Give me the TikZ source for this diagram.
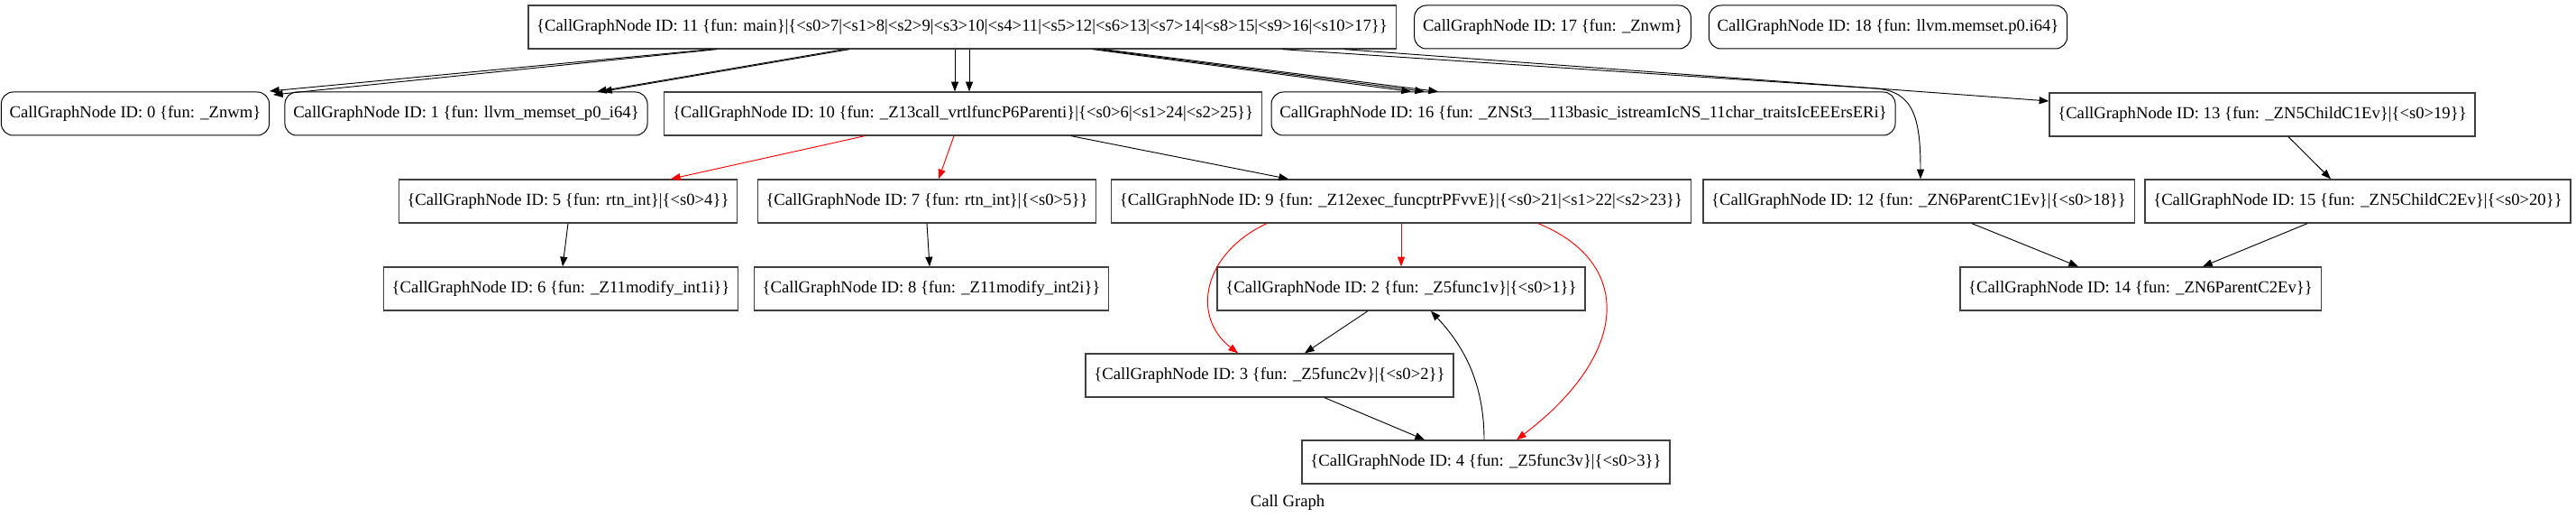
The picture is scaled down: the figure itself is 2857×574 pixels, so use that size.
\documentclass[tikz,border=0pt]{standalone}
\usepackage{fontspec}
\setmainfont{Liberation Serif}
\usetikzlibrary{arrows.meta,calc}

\begin{document}
\begin{tikzpicture}[x=0.75pt,y=-0.75pt,
  cgnode/.style={draw=black!75,line width=1pt,minimum height=36pt,inner xsep=7pt,
    font=\fontsize{14}{16}\selectfont},
  cgext/.style={cgnode,draw=black,line width=0.75pt,rounded corners=10pt},
  call/.style={-{Triangle[length=8pt,width=6pt]},line width=0.7pt},
  vcall/.style={call,red}]
  \useasboundingbox (0,0) rectangle (2857,574);

  % top row
  \node[cgnode] (n11) at (1067,30) {\{CallGraphNode ID: 11 \{fun: main\}|\{<s0>7|<s1>8|<s2>9|<s3>10|<s4>11|<s5>12|<s6>13|<s7>14|<s8>15|<s9>16|<s10>17\}\}};
  \node[cgext] (n17) at (1722,30) {CallGraphNode ID: 17 \{fun: \_Znwm\}};
  \node[cgext] (n18) at (2094,30) {CallGraphNode ID: 18 \{fun: llvm.memset.p0.i64\}};

  % row y=126
  \node[cgext] (n0) at (150,126) {CallGraphNode ID: 0 \{fun: \_Znwm\}};
  \node[cgext] (n1) at (517,126) {CallGraphNode ID: 1 \{fun: llvm\_memset\_p0\_i64\}};
  \node[cgnode] (n10) at (1068,126) {\{CallGraphNode ID: 10 \{fun: \_Z13call\_vrtlfuncP6Parenti\}|\{<s0>6|<s1>24|<s2>25\}\}};
  \node[cgext] (n16) at (1756,126) {CallGraphNode ID: 16 \{fun: \_ZNSt3\_\_113basic\_istreamIcNS\_11char\_traitsIcEEErsERi\}};
  \node[cgnode] (n13) at (2509,127) {\{CallGraphNode ID: 13 \{fun: \_ZN5ChildC1Ev\}|\{<s0>19\}\}};

  % row y=223
  \node[cgnode] (n5) at (630,223) {\{CallGraphNode ID: 5 \{fun: rtn\_int\}|\{<s0>4\}\}};
  \node[cgnode] (n7) at (1028,223) {\{CallGraphNode ID: 7 \{fun: rtn\_int\}|\{<s0>5\}\}};
  \node[cgnode] (n9) at (1554,223) {\{CallGraphNode ID: 9 \{fun: \_Z12exec\_funcptrPFvvE\}|\{<s0>21|<s1>22|<s2>23\}\}};
  \node[cgnode] (n12) at (2128,223) {\{CallGraphNode ID: 12 \{fun: \_ZN6ParentC1Ev\}|\{<s0>18\}\}};
  \node[cgnode] (n15) at (2615,223) {\{CallGraphNode ID: 15 \{fun: \_ZN5ChildC2Ev\}|\{<s0>20\}\}};

  % row y=320
  \node[cgnode] (n6) at (622,320) {\{CallGraphNode ID: 6 \{fun: \_Z11modify\_int1i\}\}};
  \node[cgnode] (n8) at (1033,320) {\{CallGraphNode ID: 8 \{fun: \_Z11modify\_int2i\}\}};
  \node[cgnode] (n2) at (1554,320) {\{CallGraphNode ID: 2 \{fun: \_Z5func1v\}|\{<s0>1\}\}};
  \node[cgnode] (n14) at (2374,320) {\{CallGraphNode ID: 14 \{fun: \_ZN6ParentC2Ev\}\}};

  % rows y=416 and y=512
  \node[cgnode] (n3) at (1408,416) {\{CallGraphNode ID: 3 \{fun: \_Z5func2v\}|\{<s0>2\}\}};
  \node[cgnode] (n4) at (1648,512) {\{CallGraphNode ID: 4 \{fun: \_Z5func3v\}|\{<s0>3\}\}};

  \node[font=\fontsize{14}{16}\selectfont] (title) at (1428,557) {Call Graph};

  % calls out of main
  \draw[call] (789,0 |- n11.south) -- (299,101);
  \draw[call] (795,0 |- n11.south) -- (303,105);
  \draw[call] (936,0 |- n11.south) -- (662,0 |- n1.north);
  \draw[call] (942,0 |- n11.south) -- (668,0 |- n1.north);
  \draw[call] (1059,0 |- n11.south) -- (1059,0 |- n10.north);
  \draw[call] (1075,0 |- n11.south) -- (1075,0 |- n10.north);
  \draw[call] (1212,0 |- n11.south) -- (1565,0 |- n16.north);
  \draw[call] (1218,0 |- n11.south) -- (1580,0 |- n16.north);
  \draw[call] (1224,0 |- n11.south) -- (1595,0 |- n16.north);
  \draw[call] (1422,0 |- n11.south) -- (2080,98) .. controls (2122,101) and (2130,130) .. (2130,0 |- n12.north);
  \draw[call] (1491,0 |- n11.south) -- (n13.west |- 0,112);

  % indirect calls (red)
  \draw[vcall] (959,0 |- n10.south) -- (744,0 |- n5.north);
  \draw[vcall] (1058,0 |- n10.south) -- (1041,0 |- n7.north);
  \draw[call] (1188,0 |- n10.south) -- (1429,0 |- n9.north);
  \draw[vcall] (n9.south) -- (n2.north);
  \draw[vcall] (1405,0 |- n9.south) .. controls (1335,280) and (1320,350) .. (1373,0 |- n3.north);
  \draw[vcall] (1706,0 |- n9.south) .. controls (1810,290) and (1810,390) .. (1682,0 |- n4.north);

  \draw[call] (n5.south) -- (624,0 |- n6.north);
  \draw[call] (n7.south) -- (1031,0 |- n8.north);
  \draw[call] (1517,0 |- n2.south) -- (1447,0 |- n3.north);
  \draw[call] (1469,0 |- n3.south) -- (1580,0 |- n4.north);
  \draw[call] (1646,0 |- n4.north) .. controls (1646,420) and (1620,380) .. (1587,0 |- n2.south);

  \draw[call] (2538,0 |- n13.south) -- (2585,0 |- n15.north);
  \draw[call] (2187,0 |- n12.south) -- (2305,0 |- n14.north);
  \draw[call] (2559,0 |- n15.south) -- (2443,0 |- n14.north);
\end{tikzpicture}
\end{document}
